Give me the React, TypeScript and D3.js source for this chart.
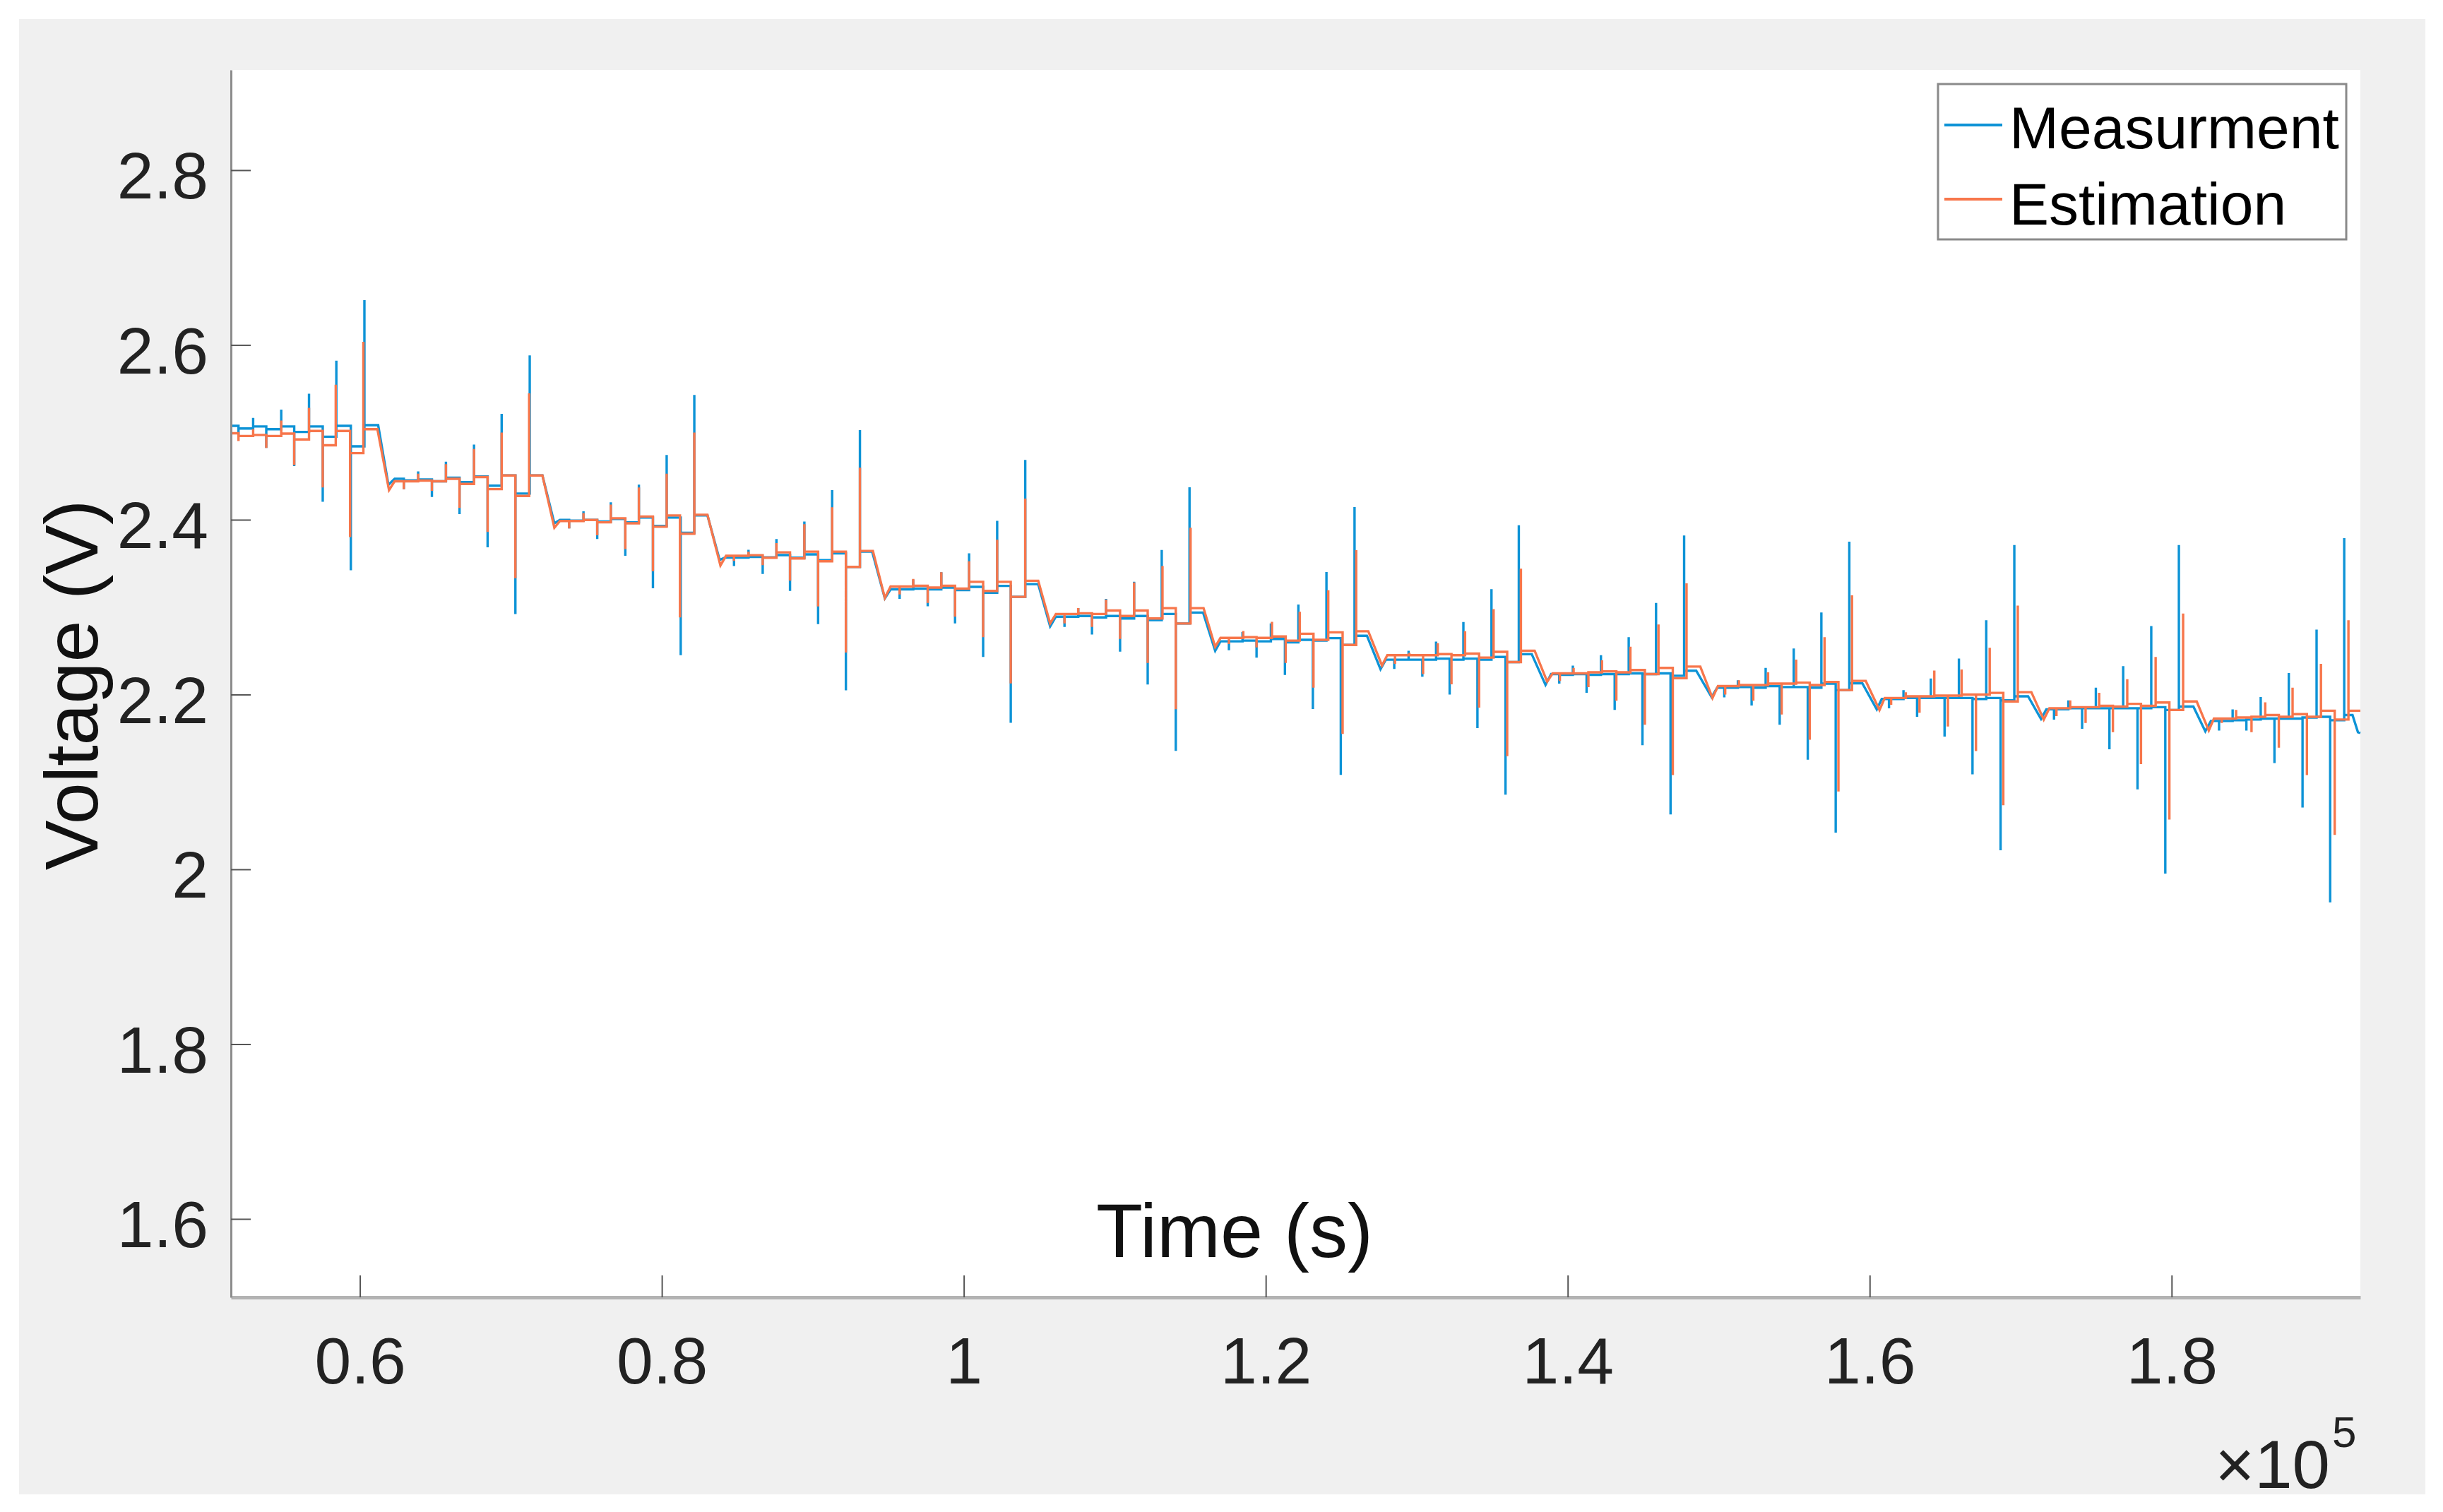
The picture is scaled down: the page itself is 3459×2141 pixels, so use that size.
import { useEffect, useRef } from 'react'
import * as d3 from 'd3'

// time in s, voltage in V
// entry [t, v] = plain vertex, entry [t, peak, after] = vertical spike at t then new level
const measurement: number[][] = [
  [51460, 2.5075],
  [51960, 2.4958, 2.5044], [52930, 2.5165, 2.5067], [53800, 2.4821, 2.5036], [54790, 2.526, 2.5067],
  [55650, 2.4613, 2.5005], [56630, 2.5443, 2.5067], [57540, 2.4206, 2.495], [58440, 2.582, 2.5075],
  [59400, 2.3422, 2.484], [60300, 2.6513, 2.5083], [61210, 2.5083], [61890, 2.44], [62300, 2.4468],
  [62910, 2.435, 2.445], [63860, 2.4554, 2.446], [64770, 2.426, 2.444], [65700, 2.4664, 2.448],
  [66600, 2.4065, 2.443], [67560, 2.486, 2.4496], [68460, 2.3685, 2.439], [69390, 2.5212, 2.4507],
  [70300, 2.292, 2.43], [71250, 2.588, 2.4507], [72090, 2.4507], [72880, 2.396], [73250, 2.3998],
  [73860, 2.39, 2.399], [74810, 2.4096, 2.3998], [75720, 2.378, 2.398], [76620, 2.42, 2.401],
  [77580, 2.3587, 2.397], [78480, 2.4402, 2.4025], [79410, 2.3215, 2.393], [80320, 2.4742, 2.4025],
  [81250, 2.245, 2.385], [82150, 2.5428, 2.405], [83020, 2.405], [83830, 2.354], [84200, 2.3567],
  [84780, 2.347, 2.3567], [85740, 2.3657, 2.3576], [86680, 2.338, 2.357], [87590, 2.378, 2.3596],
  [88490, 2.3185, 2.3565], [89440, 2.398, 2.3604], [90350, 2.2805, 2.3537], [91280, 2.434, 2.3616],
  [92190, 2.2049, 2.346], [93120, 2.5026, 2.3635], [93930, 2.3635], [94770, 2.31], [95150, 2.3204],
  [95750, 2.3095, 2.3204], [96650, 2.3314, 2.3212], [97610, 2.301, 2.3204], [98510, 2.34, 2.3224],
  [99420, 2.2813, 2.3196], [100350, 2.3616, 2.3232], [101280, 2.243, 2.3165], [102210, 2.3988, 2.3243],
  [103110, 2.1677, 2.3118], [104070, 2.4685, 2.3263], [104930, 2.3263], [105720, 2.278], [106100, 2.2891],
  [106670, 2.2773, 2.2891], [107580, 2.2989, 2.2899], [108490, 2.2687, 2.2883], [109420, 2.3095, 2.2899],
  [110350, 2.2491, 2.2871], [111280, 2.3291, 2.2899], [112180, 2.2115, 2.2852], [113110, 2.3655, 2.2922],
  [114040, 2.1355, 2.2813], [114950, 2.4372, 2.2938], [115850, 2.2938], [116650, 2.25], [117000, 2.2609],
  [117560, 2.2507, 2.2609], [118460, 2.2715, 2.2617], [119390, 2.2421, 2.2609], [120340, 2.2813, 2.2636],
  [121270, 2.2225, 2.2597], [122160, 2.303, 2.2626], [123120, 2.1835, 2.2618], [124020, 2.3402, 2.2645],
  [124970, 2.108, 2.2567], [125880, 2.4146, 2.2673], [126700, 2.2673], [127600, 2.229], [127950, 2.2399],
  [128510, 2.2293, 2.2399], [129460, 2.2501, 2.2399], [130370, 2.2203, 2.2399], [131280, 2.2606, 2.2411],
  [132180, 2.1999, 2.2399], [133090, 2.283, 2.2411], [134020, 2.1615, 2.2399], [134950, 2.3206, 2.243],
  [135880, 2.0855, 2.2371], [136760, 2.3938, 2.2461], [137620, 2.2461], [138530, 2.211], [138900, 2.2234],
  [139440, 2.2125, 2.2226], [140340, 2.2332, 2.2234], [141250, 2.2019, 2.2226], [142200, 2.245, 2.2234],
  [143110, 2.1823, 2.2234], [144040, 2.2657, 2.2242], [144950, 2.142, 2.2234], [145850, 2.3049, 2.2242],
  [146810, 2.0628, 2.2215], [147710, 2.382, 2.2273], [148510, 2.2273], [149530, 2.197], [149900, 2.2078],
  [150370, 2.1968, 2.2078], [151270, 2.2164, 2.2086], [152180, 2.1874, 2.2078], [153110, 2.2305, 2.2097],
  [154040, 2.1655, 2.2086], [154970, 2.2528, 2.2086], [155900, 2.1255, 2.2078], [156800, 2.2939, 2.2125],
  [157750, 2.0421, 2.2051], [158650, 2.375, 2.2129], [159510, 2.2129], [160470, 2.183], [160800, 2.1949],
  [161280, 2.1843, 2.1949], [162240, 2.2051, 2.196], [163140, 2.1745, 2.196], [164050, 2.2184, 2.196],
  [164960, 2.1518, 2.196], [165910, 2.2411, 2.196], [166810, 2.1087, 2.1949], [167720, 2.285, 2.196],
  [168670, 2.0217, 2.1933], [169580, 2.3711, 2.198], [170490, 2.198], [171350, 2.172], [171700, 2.1831],
  [172210, 2.1713, 2.1831], [173160, 2.1933, 2.1843], [174070, 2.1608, 2.1843], [174980, 2.2078, 2.1843],
  [175880, 2.1373, 2.1843], [176790, 2.2325, 2.1843], [177740, 2.0915, 2.1843], [178650, 2.2783, 2.1855],
  [179580, 1.9951, 2.1823], [180480, 2.3711, 2.1862], [181440, 2.1862], [182230, 2.158], [182600, 2.1698],
  [183140, 2.1588, 2.1698], [184040, 2.1831, 2.1706], [184950, 2.1588, 2.1714], [185900, 2.1972, 2.1725],
  [186810, 2.1216, 2.1725], [187760, 2.2246, 2.1725], [188670, 2.0707, 2.1737], [189600, 2.2744, 2.1745],
  [190500, 1.9622, 2.1706], [191430, 2.379, 2.1765], [191980, 2.1765], [192340, 2.1569], [192500, 2.156],
]

const estimation: number[][] = [
  [51460, 2.499],
  [51960, 2.49, 2.4958], [52930, 2.5036, 2.497], [53800, 2.4821, 2.4958], [54790, 2.5134, 2.4985],
  [55650, 2.4625, 2.4919], [56630, 2.528, 2.5016], [57540, 2.437, 2.4852], [58400, 2.5545, 2.5016],
  [59350, 2.3802, 2.4762], [60230, 2.6035, 2.5036], [61160, 2.5036], [61930, 2.4339], [62300, 2.444],
  [62910, 2.435, 2.444], [63860, 2.4527, 2.4448], [64770, 2.433, 2.444], [65700, 2.4636, 2.4468],
  [66600, 2.4135, 2.441], [67560, 2.481, 2.4488], [68460, 2.386, 2.435], [69390, 2.4997, 2.4507],
  [70300, 2.3332, 2.4272], [71210, 2.5447, 2.4507], [72090, 2.4507], [72880, 2.3908], [73250, 2.3986],
  [73860, 2.39, 2.3986], [74810, 2.4076, 2.3998], [75720, 2.3822, 2.397], [76620, 2.4174, 2.4017],
  [77580, 2.3665, 2.3959], [78480, 2.437, 2.4037], [79410, 2.341, 2.392], [80320, 2.4527, 2.4049],
  [81200, 2.2882, 2.384], [82150, 2.4997, 2.4057], [83020, 2.4057], [83880, 2.3477], [84250, 2.3587],
  [84780, 2.3528, 2.3587], [85740, 2.3634, 2.3595], [86680, 2.348, 2.3565], [87590, 2.3733, 2.3627],
  [88490, 2.3302, 2.3557], [89440, 2.3949, 2.3635], [90350, 2.3008, 2.3525], [91280, 2.4144, 2.3635],
  [92190, 2.248, 2.346], [93120, 2.4595, 2.3643], [93980, 2.3643], [94770, 2.3106], [95150, 2.3236],
  [95750, 2.3146, 2.3236], [96650, 2.3322, 2.3244], [97610, 2.3048, 2.3224], [98510, 2.34, 2.3244],
  [99420, 2.2891, 2.3212], [100350, 2.3525, 2.329], [101280, 2.2656, 2.3185], [102210, 2.3772, 2.329],
  [103110, 2.2127, 2.3118], [104070, 2.4242, 2.3302], [104930, 2.3302], [105720, 2.2813], [106100, 2.2922],
  [106670, 2.2813, 2.2922], [107580, 2.2989, 2.293], [108490, 2.2773, 2.2922], [109420, 2.3087, 2.2961],
  [110350, 2.2636, 2.2899], [111280, 2.3283, 2.2961], [112180, 2.2362, 2.2871], [113160, 2.347, 2.2989],
  [114040, 2.1833, 2.2813], [115020, 2.3909, 2.2989], [115880, 2.2989], [116650, 2.2546], [117000, 2.2648],
  [117560, 2.2578, 2.2648], [118510, 2.2726, 2.2656], [119390, 2.2539, 2.2648], [120410, 2.2832, 2.2664],
  [121320, 2.2362, 2.2617], [122250, 2.2947, 2.2696], [123160, 2.2078, 2.2626], [124140, 2.3194, 2.2712],
  [125090, 2.1549, 2.2567], [125990, 2.3652, 2.2724], [126790, 2.2724], [127700, 2.2332], [128050, 2.245],
  [128560, 2.2352, 2.245], [129510, 2.2477, 2.245], [130420, 2.2234, 2.245], [131390, 2.2587, 2.2462],
  [132300, 2.2117, 2.245], [133200, 2.2724, 2.2469], [134130, 2.185, 2.2423], [135090, 2.2978, 2.2489],
  [135990, 2.1294, 2.2371], [136900, 2.3441, 2.2501], [137810, 2.2501], [138640, 2.2148], [139000, 2.2242],
  [139480, 2.2156, 2.2242], [140390, 2.2305, 2.2242], [141370, 2.2085, 2.2254], [142270, 2.2391, 2.2265],
  [143220, 2.1929, 2.2254], [144150, 2.2548, 2.2281], [145110, 2.1655, 2.2234], [146010, 2.2802, 2.2305],
  [146960, 2.1079, 2.2187], [147870, 2.3272, 2.232], [148780, 2.232], [149590, 2.196], [149950, 2.2097],
  [150430, 2.1999, 2.2097], [151340, 2.2164, 2.2109], [152290, 2.1929, 2.2109], [153270, 2.2254, 2.2125],
  [154170, 2.1772, 2.2125], [155130, 2.2399, 2.2136], [156030, 2.1482, 2.2109], [157010, 2.2657, 2.2144],
  [157930, 2.0891, 2.2051], [158830, 2.3135, 2.2156], [159740, 2.2156], [160650, 2.1823], [161000, 2.196],
  [161420, 2.1882, 2.196], [162390, 2.2027, 2.198], [163300, 2.1792, 2.198], [164280, 2.2274, 2.1988],
  [165180, 2.1635, 2.1988], [166090, 2.2286, 2.2], [167040, 2.1353, 2.2], [167950, 2.2536, 2.2019],
  [168850, 2.0734, 2.1921], [169810, 2.3018, 2.2027], [170710, 2.2027], [171530, 2.1713], [171900, 2.1843],
  [172370, 2.1753, 2.1843], [173280, 2.1933, 2.1855], [174300, 2.1674, 2.1855], [175200, 2.2019, 2.187],
  [176110, 2.157, 2.1862], [177060, 2.2176, 2.1894], [177970, 2.1204, 2.187], [178940, 2.243, 2.1909],
  [179850, 2.057, 2.1823], [180760, 2.2928, 2.1921], [181660, 2.1921], [182460, 2.1588], [182800, 2.1725],
  [183320, 2.1674, 2.1725], [184270, 2.1823, 2.1737], [185290, 2.1569, 2.1745], [186200, 2.191, 2.1765],
  [187100, 2.1392, 2.1745], [188010, 2.2078, 2.1776], [188960, 2.1079, 2.1745], [189890, 2.2352, 2.1815],
  [190800, 2.0394, 2.1714], [191710, 2.285, 2.1815], [192500, 2.1815],
]

const xTicks = [0.6, 0.8, 1, 1.2, 1.4, 1.6, 1.8] // x 10^5 s
const yTicks = [1.6, 1.8, 2, 2.2, 2.4, 2.6, 2.8]
const seriesNames = ['Measurment', 'Estimation']
const seriesColors = ['#0d93d6', '#f7764b']

function expand(entries: number[][]) {
  const pts: [number, number][] = []
  entries.forEach(e => {
    if (e.length === 3 && pts.length) {
      const prev = pts[pts.length - 1][1]
      pts.push([e[0], prev], [e[0], e[1]], [e[0], e[2]])
    } else {
      pts.push([e[0], e[1]])
    }
  })
  return pts
}

const W = 3459
const H = 2141
const FONT = '"Liberation Sans", Arial, Helvetica, sans-serif'

export default function App() {
  const svgRef = useRef<SVGSVGElement>(null)

  useEffect(() => {
    if (!svgRef.current) return
    const svg = d3.select(svgRef.current)
    svg.selectAll('*').remove()

    const plot = { left: 327, right: 3342, top: 99, bottom: 1837 }

    const x = d3.scaleLinear().domain([51460, 192500]).range([plot.left, plot.right])
    const y = d3.scaleLinear().domain([1.5103, 2.9147]).range([plot.bottom, plot.top])

    // figure + axes background
    svg.append('rect').attr('x', 27).attr('y', 27).attr('width', 3434 - 27).attr('height', 2116 - 27)
      .attr('fill', '#f0f0f0')
    svg.append('rect').attr('x', plot.left).attr('y', plot.top)
      .attr('width', plot.right - plot.left).attr('height', plot.bottom - plot.top)
      .attr('fill', '#ffffff')

    // series
    const line = d3.line<[number, number]>()
      .x(d => x(d[0]))
      .y(d => y(d[1]))

    ;[measurement, estimation].forEach((s, i) => {
      svg.append('path')
        .attr('d', line(expand(s)))
        .attr('fill', 'none')
        .attr('stroke', seriesColors[i])
        .attr('stroke-width', 3.4)
    })

    // x axis (ticks point inward)
    const xAxis = svg.append('g')
      .attr('transform', `translate(0,${plot.bottom})`)
      .call(d3.axisBottom(x)
        .tickValues(xTicks.map(v => v * 1e5))
        .tickFormat((d: any) => String(xTicks[xTicks.findIndex(v => Math.abs(v * 1e5 - d) < 1)]))
        .tickSizeInner(-31)
        .tickSizeOuter(0)
        .tickPadding(56))
    xAxis.select('.domain').attr('stroke', '#b3b3b3').attr('stroke-width', 5)
    xAxis.selectAll('.tick line').attr('stroke', '#555').attr('stroke-width', 2)
    xAxis.selectAll('.tick text')
      .attr('fill', '#222')
      .style('font-size', '93px')
      .style('font-family', FONT)

    // y axis
    const yAxis = svg.append('g')
      .attr('transform', `translate(${plot.left},0)`)
      .call(d3.axisLeft(y)
        .tickValues(yTicks)
        .tickFormat((d: any) => String(d))
        .tickSizeInner(-28)
        .tickSizeOuter(0)
        .tickPadding(32))
    yAxis.select('.domain').attr('stroke', '#8c8c8c').attr('stroke-width', 3)
    yAxis.selectAll('.tick line').attr('stroke', '#555').attr('stroke-width', 2)
    yAxis.selectAll('.tick text')
      .attr('fill', '#222')
      .attr('dy', '0.43em')
      .style('font-size', '93px')
      .style('font-family', FONT)

    // labels
    svg.append('text')
      .attr('x', 1748).attr('y', 1780)
      .attr('text-anchor', 'middle')
      .attr('fill', '#111')
      .style('font-size', '108px')
      .style('font-family', FONT)
      .text('Time (s)')

    svg.append('text')
      .attr('transform', 'translate(138,970) rotate(-90)')
      .attr('text-anchor', 'middle')
      .attr('fill', '#111')
      .style('font-size', '106px')
      .style('font-family', FONT)
      .text('Voltage (V)')

    // exponent
    svg.append('text')
      .attr('x', 3299).attr('y', 2107)
      .attr('text-anchor', 'end')
      .attr('fill', '#222')
      .style('font-size', '96px')
      .style('font-family', FONT)
      .text('\u00d710')
    svg.append('text')
      .attr('x', 3302).attr('y', 2049)
      .attr('fill', '#222')
      .style('font-size', '62px')
      .style('font-family', FONT)
      .text('5')

    // legend
    const legend = svg.append('g')
    legend.append('rect')
      .attr('x', 2744).attr('y', 119).attr('width', 578).attr('height', 220)
      .attr('fill', '#fff').attr('stroke', '#8a8a8a').attr('stroke-width', 3)
    const rows = [{ ly: 177, ty: 210 }, { ly: 282, ty: 318 }]
    seriesNames.forEach((name, i) => {
      legend.append('line')
        .attr('x1', 2753).attr('x2', 2835)
        .attr('y1', rows[i].ly).attr('y2', rows[i].ly)
        .attr('stroke', seriesColors[i]).attr('stroke-width', 4)
      legend.append('text')
        .attr('x', 2845).attr('y', rows[i].ty)
        .attr('fill', '#000')
        .style('font-size', '84px')
        .style('font-family', FONT)
        .text(name)
    })
  }, [])

  return (
    <svg
      ref={svgRef}
      width={W}
      height={H}
      style={{ position: 'absolute', left: 0, top: 0, background: '#fff' }}
    />
  )
}
